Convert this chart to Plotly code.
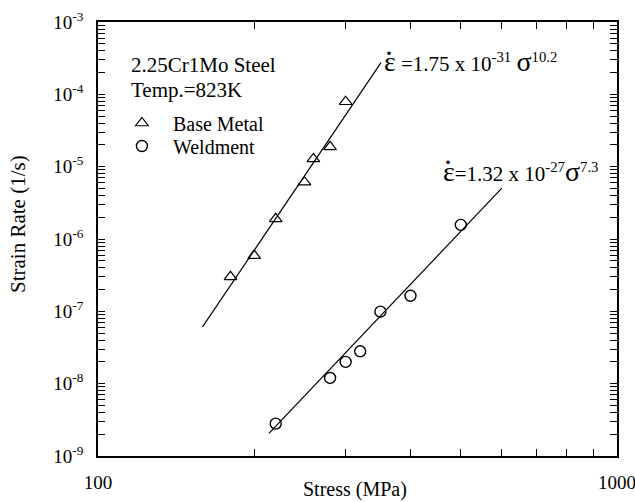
import plotly.graph_objects as go

# ---- data ----
base_stress = [180, 200, 220, 250, 260, 280, 300]
base_rate = [3.0e-7, 5.9e-7, 1.9e-6, 6.1e-6, 1.28e-5, 1.88e-5, 7.9e-5]

weld_stress = [220, 280, 300, 320, 350, 400, 500]
weld_rate = [2.8e-9, 1.2e-8, 2.0e-8, 2.8e-8, 9.9e-8, 1.64e-7, 1.57e-6]

base_fit_stress = [159, 351]
base_fit_rate = [6.1e-8, 2.75e-4]
weld_fit_stress = [213.5, 600]
weld_fit_rate = [2.05e-9, 5.05e-6]

x_tickvals = [100, 200, 300, 400, 500, 600, 700, 800, 900, 1000]
x_ticktext = ["100", "", "", "", "", "", "", "", "", "1000"]

y_decades = [-9, -8, -7, -6, -5, -4, -3]

FONT = "Liberation Serif, Times New Roman, serif"

y_tickvals, y_ticktext = [], []
for d in y_decades:
    for m in range(1, 10):
        if d == -3 and m > 1:
            break
        y_tickvals.append(m * 10.0 ** d)
        y_ticktext.append("10<sup>%d</sup>" % d if m == 1 else "")

fig = go.Figure()
fig.add_trace(go.Scatter(x=base_fit_stress, y=base_fit_rate, mode="lines",
                         line=dict(color="black", width=1.2), showlegend=False))
fig.add_trace(go.Scatter(x=weld_fit_stress, y=weld_fit_rate, mode="lines",
                         line=dict(color="black", width=1.2), showlegend=False))
fig.add_trace(go.Scatter(x=base_stress, y=base_rate, mode="markers", name="Base Metal",
                         legend="legend",
                         marker=dict(symbol="triangle-up-open", size=11, color="black",
                                     line=dict(width=1.2, color="black"))))
fig.add_trace(go.Scatter(x=weld_stress, y=weld_rate, mode="markers", name="Weldment",
                         legend="legend2",
                         marker=dict(symbol="circle-open", size=11, color="black",
                                     line=dict(width=1.4, color="black"))))

axis_common = dict(showline=True, linecolor="black", linewidth=1.5, mirror="ticks",
                   ticks="inside", ticklen=7, tickwidth=1, tickcolor="black",
                   showgrid=False, zeroline=False, ticklabeloverflow="allow",
                   automargin=False,
                   tickfont=dict(family=FONT, size=19, color="black"))

legend_common = dict(xanchor="left", yanchor="middle", bgcolor="rgba(0,0,0,0)",
                     font=dict(family=FONT, size=20, color="black"), itemwidth=52)

fig.update_layout(
    width=635, height=502,
    margin=dict(l=98, r=18, t=22, b=46, autoexpand=False),
    paper_bgcolor="white", plot_bgcolor="white",
    font=dict(family=FONT, size=20, color="black"),
    xaxis=dict(type="log", range=[2, 3], tickvals=x_tickvals, ticktext=x_ticktext,
               ticklabelstandoff=8, **axis_common),
    yaxis=dict(type="log", range=[-9, -3], tickvals=y_tickvals, ticktext=y_ticktext,
               ticklabelstandoff=9, **axis_common),
    legend=dict(x=0.0249, y=0.7673, **legend_common),
    legend2=dict(x=0.0249, y=0.7143, **legend_common),
    showlegend=True,
)


def px(xp):
    return (xp - 98) / 519


def py(yp):
    return 1 - (yp - 22) / 434


ann = [
    dict(text="Stress (MPa)", x=px(355), y=py(489), showarrow=False, font=dict(size=20)),
    dict(text="Strain Rate (1/s)", x=px(18), y=py(224), textangle=-90, showarrow=False,
         font=dict(size=21)),
    dict(text="2.25Cr1Mo Steel", x=px(129), y=py(65), xanchor="left", showarrow=False,
         font=dict(size=21)),
    dict(text="Temp.=823K", x=px(129), y=py(90), xanchor="left", showarrow=False,
         font=dict(size=21)),
    dict(text="<span style='font-size:28px'>\u03b5</span> =1.75 x 10<sup>-31</sup> "
              "<span style='font-size:28px'>\u03c3</span><sup>10.2</sup>",
         x=px(382), y=py(61), xanchor="left", showarrow=False, font=dict(size=21)),
    dict(text="\u00b7", x=px(389), y=py(52), showarrow=False, font=dict(size=30)),
    dict(text="<span style='font-size:28px'>\u03b5</span>=1.32 x 10<sup>-27</sup>"
              "<span style='font-size:28px'>\u03c3</span><sup>7.3</sup>",
         x=px(441), y=py(172), xanchor="left", showarrow=False, font=dict(size=21)),
    dict(text="\u00b7", x=px(448), y=py(161), showarrow=False, font=dict(size=30)),
]
for a in ann:
    a.update(xref="paper", yref="paper")
    a.setdefault("xanchor", "center")
    a.setdefault("yanchor", "middle")
fig.update_layout(annotations=ann)
fig.write_html("out.html", config={"displayModeBar": False},
               post_script="document.body.style.margin='0px';")
